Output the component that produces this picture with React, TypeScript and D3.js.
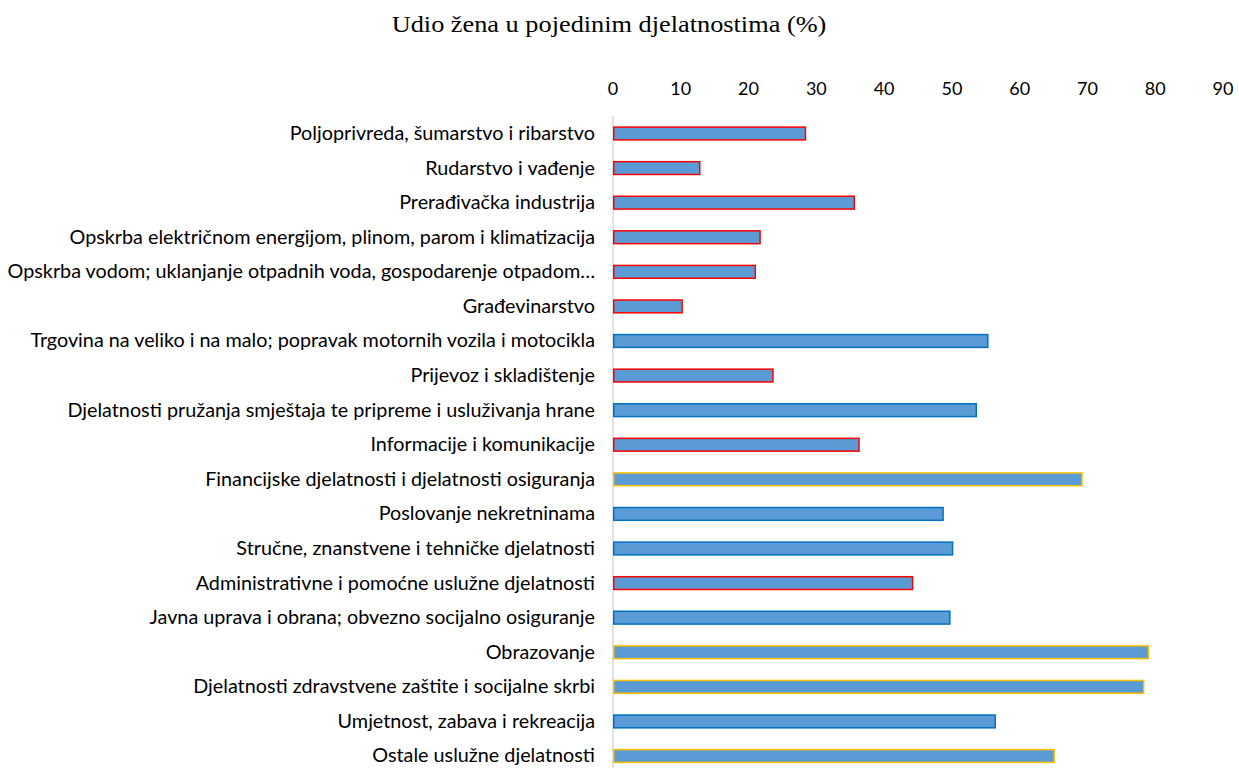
import React, { useEffect, useRef } from 'react';
import * as d3 from 'd3';

// share of women per activity (%)
const categories = [
  'Poljoprivreda, šumarstvo i ribarstvo',
  'Rudarstvo i vađenje',
  'Prerađivačka industrija',
  'Opskrba električnom energijom, plinom, parom i klimatizacija',
  'Opskrba vodom; uklanjanje otpadnih voda, gospodarenje otpadom…',
  'Građevinarstvo',
  'Trgovina na veliko i na malo; popravak motornih vozila i motocikla',
  'Prijevoz i skladištenje',
  'Djelatnosti pružanja smještaja te pripreme i usluživanja hrane',
  'Informacije i komunikacije',
  'Financijske djelatnosti i djelatnosti osiguranja',
  'Poslovanje nekretninama',
  'Stručne, znanstvene i tehničke djelatnosti',
  'Administrativne i pomoćne uslužne djelatnosti',
  'Javna uprava i obrana; obvezno socijalno osiguranje',
  'Obrazovanje',
  'Djelatnosti zdravstvene zaštite i socijalne skrbi',
  'Umjetnost, zabava i rekreacija',
  'Ostale uslužne djelatnosti',
];

const values = [
  28.4, 12.8, 35.6, 21.7, 21.0, 10.2, 55.3, 23.6, 53.6, 36.3,
  69.2, 48.7, 50.1, 44.2, 49.7, 79.0, 78.3, 56.4, 65.1,
];

// border group of each bar: low / mid / high
const groups = [
  'low', 'low', 'low', 'low', 'low', 'low', 'mid', 'low', 'mid', 'low',
  'high', 'mid', 'mid', 'low', 'mid', 'high', 'high', 'mid', 'high',
];

const ticks = [0, 10, 20, 30, 40, 50, 60, 70, 80, 90];

const title = 'Udio žena u pojedinim djelatnostima (%)';

const App = () => {
  const chartRef = useRef<SVGSVGElement>(null);

  useEffect(() => {
    const width = 1239;
    const height = 768;
    const font = 'Lato, "Noto Sans", sans-serif';
    // the source picture is a bit stretched sideways, so the text is too
    const labelStretch = 1.075;
    const titleStretch = 1.17;

    const svg = d3.select(chartRef.current);
    svg.selectAll('*').remove();
    svg.attr('width', width).attr('height', height);

    const x = d3.scaleLinear().domain([0, 90]).range([613, 1223]);
    const y = d3.scaleBand()
      .domain(categories)
      .range([116.2, 773.3])
      .paddingInner(0.63)
      .paddingOuter(0.315);

    const stroke = d3.scaleOrdinal<string, string>()
      .domain(['low', 'mid', 'high'])
      .range(['#FF0000', '#0070C0', '#FFC000']);

    svg.append('text')
      .attr('transform', `translate(609,32) scale(${titleStretch},1)`)
      .attr('text-anchor', 'middle')
      .attr('font-family', '"Liberation Serif", "Times New Roman", serif')
      .attr('font-size', 22.5)
      .attr('fill', '#000')
      .text(title);

    // zero line
    svg.append('line')
      .attr('x1', x(0)).attr('x2', x(0))
      .attr('y1', 116).attr('y2', 773)
      .attr('stroke', '#D9D9D9')
      .attr('stroke-width', 1.5);

    // top tick labels
    svg.append('g')
      .attr('font-family', font)
      .attr('font-size', 18)
      .attr('text-anchor', 'middle')
      .selectAll('text')
      .data(ticks)
      .join('text')
        .attr('x', d => x(d))
        .attr('y', 95)
        .attr('fill', '#000')
        .text(d => d);

    const data = categories.map((c, i) => ({ name: c, value: values[i], group: groups[i] }));

    svg.append('g')
      .selectAll('rect')
      .data(data)
      .join('rect')
        .attr('x', x(0) + 0.75)
        .attr('y', d => y(d.name)!)
        .attr('width', d => x(d.value) - x(0) - 0.75)
        .attr('height', y.bandwidth())
        .attr('fill', '#5B9BD5')
        .attr('stroke', d => stroke(d.group))
        .attr('stroke-width', 1.5);

    svg.append('g')
      .attr('font-family', font)
      .attr('font-size', 18.4)
      .attr('text-anchor', 'end')
      .selectAll('text')
      .data(data)
      .join('text')
        .attr('transform', d => `translate(595,${y(d.name)! + y.bandwidth() / 2}) scale(${labelStretch},1)`)
        .attr('dy', '0.35em')
        .attr('fill', '#000')
        .text(d => d.name);
  }, []);

  return (
    <div style={{ position: 'absolute', left: 0, top: 0 }}>
      <svg ref={chartRef}></svg>
    </div>
  );
};

export default App;
